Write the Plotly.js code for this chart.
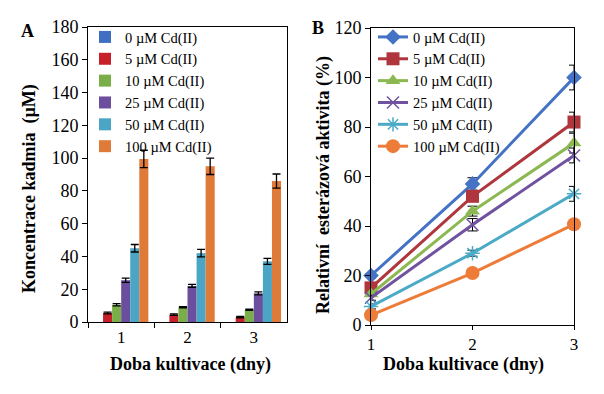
<!DOCTYPE html>
<html>
<head>
<meta charset="utf-8">
<script src="https://cdn.plot.ly/plotly-3.0.1.min.js"></script>
<style>html,body{margin:0;padding:0;background:#fff;}#chart{width:604px;height:394px;}</style>
</head>
<body>
<div id="chart"></div>
<script>
// ---------- DATA ----------
const days = ["1", "2", "3"];
const seriesNames = ["0 µM Cd(II)", "5 µM Cd(II)", "10 µM Cd(II)", "25 µM Cd(II)", "50 µM Cd(II)", "100 µM Cd(II)"];

// Panel A: Koncentrace kadmia (µM)
const cd0 = [0, 0, 0];
const cd5 = [5.5, 4.5, 3];
const cd10 = [10.5, 9, 7.5];
const cd25 = [25.5, 22, 17.5];
const cd50 = [45, 42, 37];
const cd100 = [99.5, 95, 86];
const cd0Err = [0, 0, 0];
const cd5Err = [0.5, 0.4, 0.4];
const cd10Err = [0.7, 0.4, 0.4];
const cd25Err = [1.3, 0.9, 0.9];
const cd50Err = [2.3, 2.3, 1.8];
const cd100Err = [5.3, 5.0, 4.3];

// Panel B: Relativní esterázová aktivita (%)
const dayNum = [1, 2, 3];
const act0 = [20, 57, 100];
const act5 = [15, 52, 82];
const act10 = [12.5, 46, 73.5];
const act25 = [11, 40.5, 68.5];
const act50 = [7.5, 29, 53];
const act100 = [4, 21, 40.7];
const act0Err = [1, 2.5, 5];
const act5Err = [1, 2, 4];
const act10Err = [1, 2, 4];
const act25Err = [1, 2.5, 3];
const act50Err = [1, 1.2, 3];
const act100Err = [0.5, 1, 1.5];

const yTicksA = [0, 20, 40, 60, 80, 100, 120, 140, 160, 180];
const yTicksB = [0, 20, 40, 60, 80, 100, 120];

// ---------- STYLE ----------
const barColors = ["#3E6FC2", "#C8202B", "#79AE48", "#6B4E9E", "#4BA5C4", "#E07A38"];
const lineColors = ["#4472C4", "#B0363D", "#8CB852", "#7052A0", "#4BAAC6", "#EE7C39"];
const symbols = ["diamond", "square", "triangle-up", "x-thin-open", "asterisk-open", "circle"];
const symSizes = [12, 13, 13, 12, 12, 14];
const FONT = "Liberation Serif, Times New Roman, serif";

const aVals = [cd0, cd5, cd10, cd25, cd50, cd100];
const aErrs = [cd0Err, cd5Err, cd10Err, cd25Err, cd50Err, cd100Err];
const bVals = [act0, act5, act10, act25, act50, act100];
const bErrs = [act0Err, act5Err, act10Err, act25Err, act50Err, act100Err];

const traces = [];
for (let i = 0; i < 6; i++) {
  traces.push({
    type: "bar", x: days, y: aVals[i], name: seriesNames[i],
    xaxis: "x", yaxis: "y", legend: "legend",
    marker: {color: barColors[i], line: {width: 0}},
    error_y: {type: "data", array: aErrs[i], visible: i > 0, color: "#000", thickness: 1.3, width: 4}
  });
}
for (let i = 0; i < 6; i++) {
  const sym = symbols[i];
  traces.push({
    type: "scatter", mode: "lines+markers", x: dayNum, y: bVals[i], name: seriesNames[i],
    xaxis: "x2", yaxis: "y2", legend: "legend2", cliponaxis: false,
    line: {color: lineColors[i], width: 3},
    marker: {symbol: sym, size: symSizes[i], color: lineColors[i],
             line: {color: lineColors[i], width: sym.indexOf("open") >= 0 ? 1.5 : 0}},
    error_y: {type: "data", array: bErrs[i], color: "#000", thickness: 1, width: 5}
  });
}

const W = 604, H = 394;
const px = v => v / W;
const py = v => 1 - v / H;

const tickFont = {family: FONT, size: 18, color: "#000"};
const xTickFont = {family: FONT, size: 17, color: "#000"};
const legFont = {family: FONT, size: 14.5, color: "#000"};
const layout = {
  width: W, height: H,
  margin: {l: 0, r: 0, t: 0, b: 0},
  paper_bgcolor: "#fff", plot_bgcolor: "#fff",
  font: {family: FONT, color: "#000"},
  showlegend: true,
  barmode: "group", bargap: 0.18, bargroupgap: 0,
  xaxis: {
    domain: [px(88), px(287)], type: "category", anchor: "y",
    showline: true, linecolor: "#000", linewidth: 1, mirror: true,
    ticks: "outside", ticklen: 5, tickcolor: "#000", tickson: "boundaries",
    tickfont: xTickFont, showgrid: false, zeroline: false, automargin: false
  },
  yaxis: {
    domain: [py(322), py(27)], range: [0, 180], anchor: "x",
    tickvals: yTicksA, ticktext: yTicksA.map(String),
    showline: true, linecolor: "#000", linewidth: 1, mirror: true,
    ticks: "outside", ticklen: 5, tickcolor: "#000",
    tickfont: tickFont, showgrid: false, zeroline: false, automargin: false
  },
  xaxis2: {
    domain: [px(371), px(574)], range: [1, 3], anchor: "y2",
    tickvals: dayNum, ticktext: days,
    showline: true, linecolor: "#000", linewidth: 1, mirror: true,
    ticks: "outside", ticklen: 4, tickcolor: "#000",
    tickfont: xTickFont, showgrid: false, zeroline: false, automargin: false
  },
  yaxis2: {
    domain: [py(325), py(28)], range: [0, 120], anchor: "x2",
    tickvals: yTicksB, ticktext: yTicksB.map(String),
    showline: true, linecolor: "#000", linewidth: 1, mirror: true,
    ticks: "outside", ticklen: 5, tickcolor: "#000",
    tickfont: tickFont, showgrid: false, zeroline: false, automargin: false
  },
  legend: {
    x: px(85), y: py(21), xanchor: "left", yanchor: "top",
    bgcolor: "rgba(0,0,0,0)", borderwidth: 0,
    font: legFont, tracegroupgap: 0, itemclick: false
  },
  legend2: {
    x: px(373), y: py(21), xanchor: "left", yanchor: "top",
    bgcolor: "rgba(0,0,0,0)", borderwidth: 0,
    font: legFont, tracegroupgap: 0, itemclick: false
  },
  annotations: [
    {text: "<b>A</b>", x: px(27), y: py(31), xref: "paper", yref: "paper", showarrow: false,
     xanchor: "center", yanchor: "middle", font: {family: FONT, size: 18, color: "#000"}},
    {text: "<b>B</b>", x: px(318), y: py(28), xref: "paper", yref: "paper", showarrow: false,
     xanchor: "center", yanchor: "middle", font: {family: FONT, size: 18, color: "#000"}},
    {text: "<b>Koncentrace kadmia  (µM)</b>", x: px(30), y: py(189), xref: "paper", yref: "paper",
     showarrow: false, textangle: -90, xanchor: "center", yanchor: "middle",
     font: {family: FONT, size: 18, color: "#000"}},
    {text: "<b>Doba kultivace (dny)</b>", x: px(190), y: py(364), xref: "paper", yref: "paper",
     showarrow: false, xanchor: "center", yanchor: "middle",
     font: {family: FONT, size: 18, color: "#000"}},
    {text: "<b>Relativní  esterázová aktivita (%)</b>", x: px(323), y: py(185), xref: "paper", yref: "paper",
     showarrow: false, textangle: -90, xanchor: "center", yanchor: "middle",
     font: {family: FONT, size: 18, color: "#000"}},
    {text: "<b>Doba kultivace (dny)</b>", x: px(463), y: py(364), xref: "paper", yref: "paper",
     showarrow: false, xanchor: "center", yanchor: "middle",
     font: {family: FONT, size: 18, color: "#000"}}
  ]
};

Plotly.newPlot("chart", traces, layout, {staticPlot: true, displayModeBar: false});
</script>
</body>
</html>
